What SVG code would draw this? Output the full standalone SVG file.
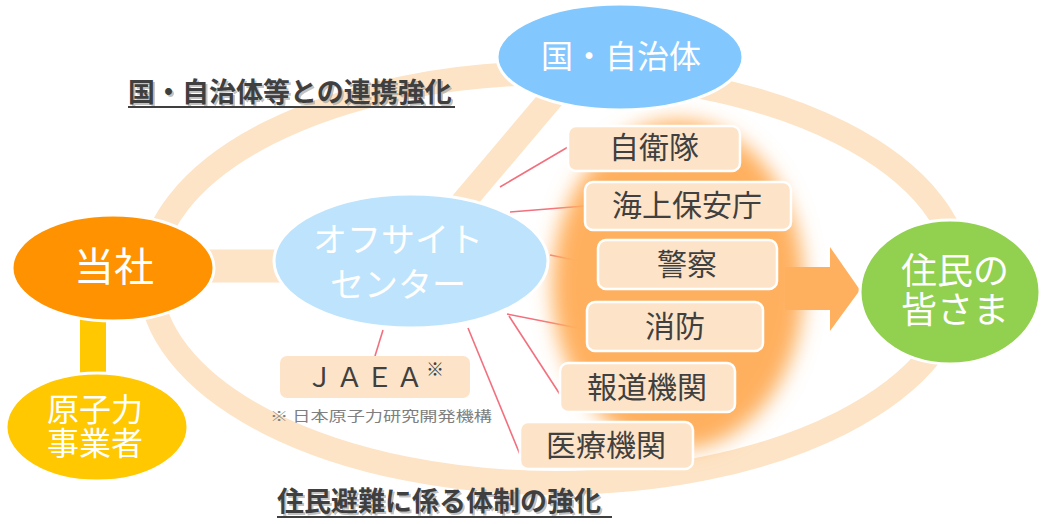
<svg xmlns="http://www.w3.org/2000/svg" width="1047" height="524" viewBox="0 0 1047 524">
<defs>
<style>
text{font-family:"Noto Sans CJK JP","Noto Sans CJK SC",sans-serif;}
.band{fill:none;stroke:#FDE4C6;}
.node{stroke:#FFFFFF;stroke-width:3;}
.wt{fill:#FFFFFF;text-anchor:middle;}
.box{fill:#FDE4C8;stroke:#FFFFFF;stroke-width:2.5;}
.bt{fill:#404040;font-size:30px;text-anchor:middle;}
.link{stroke:#F2707E;stroke-width:1.6;fill:none;}
.title{font-size:27px;font-weight:bold;fill:#3F3F3F;}
.shadow{font-size:27px;font-weight:bold;fill:#9A9A9A;opacity:0.6;}
</style>
<filter id="glow" x="-50%" y="-50%" width="200%" height="200%">
<feGaussianBlur stdDeviation="10"/>
</filter>
</defs>
<rect width="1047" height="524" fill="#FFFFFF"/>

<g id="connectors">
<ellipse class="band" cx="555" cy="278" rx="405" ry="205" stroke-width="24"/>
<line class="band" x1="455" y1="212" x2="565" y2="82" stroke-width="25"/>
<line class="band" x1="205" y1="266" x2="285" y2="266" stroke-width="33"/>
<line x1="93" y1="315" x2="93" y2="378" stroke="#FFC800" stroke-width="26"/>
<line class="link" x1="500" y1="187" x2="568" y2="147"/>
<line class="link" x1="510" y1="212" x2="585" y2="206"/>
<line class="link" x1="550" y1="255" x2="599" y2="265"/>
<line class="link" x1="507" y1="314" x2="588" y2="330"/>
<line class="link" x1="509" y1="316" x2="561" y2="396"/>
<line class="link" x1="468" y1="328" x2="521" y2="457"/>
<line class="link" x1="383" y1="330" x2="375" y2="356"/>
</g>

<g id="glow-arrow">
<ellipse cx="678" cy="285" rx="126" ry="165" fill="#FFB05E" filter="url(#glow)"/>
<polygon points="785,267 830,267 830,247 860,290 830,331 830,310 785,310" fill="#FFB05E"/>
</g>

<g id="kuni">
<ellipse class="node" cx="620" cy="57" rx="123" ry="53" fill="#82C8FF"/>
<text class="wt" x="621" y="68" font-size="32">国・自治体</text>
</g>

<g id="tousha">
<ellipse class="node" cx="113" cy="268" rx="101" ry="53" fill="#FF9200"/>
<text class="wt" x="114" y="281" font-size="40">当社</text>
</g>

<g id="jigyosha">
<ellipse class="node" cx="97" cy="427" rx="91" ry="54" fill="#FFC800"/>
<text class="wt" font-size="32"><tspan x="95" y="421">原子力</tspan><tspan x="95" y="455">事業者</tspan></text>
</g>

<g id="offsite">
<ellipse class="node" cx="411" cy="261" rx="137" ry="67" fill="#BEE3FC"/>
<text class="wt" font-size="34"><tspan x="398" y="252">オフサイト</tspan><tspan x="398" y="297">センター</tspan></text>
</g>

<g id="jieitai">
<rect class="box" x="568" y="126" width="172" height="45" rx="8"/>
<text class="bt" x="654" y="158">自衛隊</text>
</g>
<g id="kaijo">
<rect class="box" x="585" y="182" width="206" height="48" rx="8"/>
<text class="bt" x="687" y="216">海上保安庁</text>
</g>
<g id="keisatsu">
<rect class="box" x="598" y="240" width="179" height="49" rx="8"/>
<text class="bt" x="687" y="275">警察</text>
</g>
<g id="shobo">
<rect class="box" x="587" y="302" width="176" height="49" rx="8"/>
<text class="bt" x="675" y="337">消防</text>
</g>
<g id="hodo">
<rect class="box" x="560" y="363" width="175" height="49" rx="8"/>
<text class="bt" x="647" y="398">報道機関</text>
</g>
<g id="iryo">
<rect class="box" x="520" y="422" width="173" height="47" rx="8"/>
<text class="bt" x="606" y="456">医療機関</text>
</g>

<g id="jaea">
<rect x="280" y="356" width="190" height="42" rx="7" fill="#FDE4C8"/>
<text x="306" y="387" font-size="27" fill="#404040" letter-spacing="3">ＪＡＥＡ<tspan font-size="18" dy="-11">※</tspan></text>
<text x="270" y="421" font-size="14" fill="#7F7F7F" textLength="222" lengthAdjust="spacingAndGlyphs">※ 日本原子力研究開発機構</text>
</g>

<g id="jumin">
<ellipse class="node" cx="950" cy="292" rx="90" ry="72" fill="#92D050"/>
<text class="wt" font-size="36"><tspan x="955" y="284">住民の</tspan><tspan x="955" y="323">皆さま</tspan></text>
</g>

<g id="title-top">
<text class="shadow" x="130" y="104">国・自治体等との連携強化</text>
<text class="title" x="128" y="102">国・自治体等との連携強化</text>
<line x1="128" y1="107" x2="455" y2="107" stroke="#3F3F3F" stroke-width="2"/>
</g>

<g id="title-bottom">
<text class="shadow" x="279" y="513">住民避難に係る体制の強化</text>
<text class="title" x="277" y="511">住民避難に係る体制の強化</text>
<line x1="277" y1="517" x2="612" y2="517" stroke="#3F3F3F" stroke-width="2"/>
</g>
</svg>
